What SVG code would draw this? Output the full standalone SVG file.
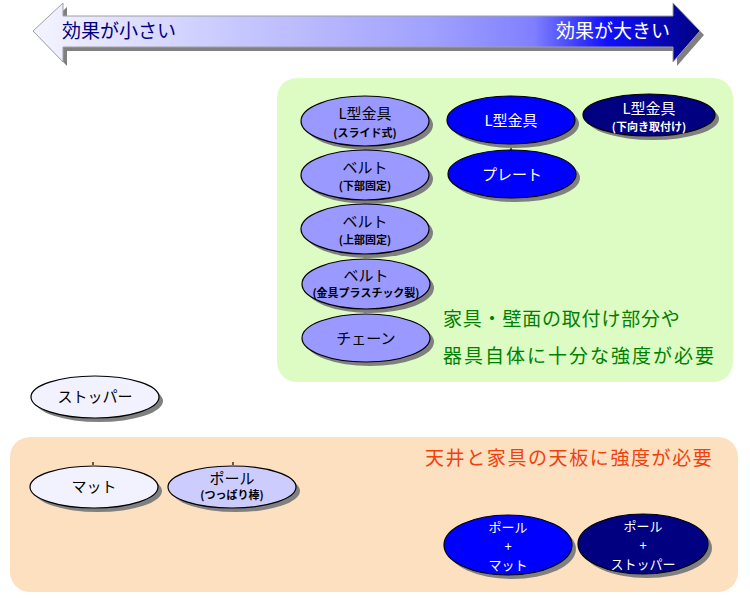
<svg xmlns="http://www.w3.org/2000/svg" width="750" height="600" viewBox="0 0 750 600">
<defs>
<linearGradient id="g" x1="33" y1="0" x2="700" y2="0" gradientUnits="userSpaceOnUse">
<stop offset="0" stop-color="#f4f4ff"/>
<stop offset="0.3" stop-color="#c8c8ff"/>
<stop offset="0.6" stop-color="#a0a0ff"/>
<stop offset="0.75" stop-color="#8080ff"/>
<stop offset="0.86" stop-color="#1010ff"/>
<stop offset="1" stop-color="#000080"/>
</linearGradient>
<style>
.t{font-family:"Noto Sans CJK JP","Liberation Sans",sans-serif;text-anchor:middle}
.m{font-size:15px}
.m3{font-size:13px}
.s{font-size:11px;font-weight:bold}
.k{fill:#000000}
.w{fill:#ffffff}
.sh{fill:#808080}
.e{stroke:#000000;stroke-width:1.2}
.c{stroke:#000000;stroke-width:1.2;fill:none}
.lbl{font-family:"Noto Sans CJK JP","Liberation Sans",sans-serif;font-size:19px}
</style>
</defs>
<rect width="750" height="600" fill="#ffffff"/>
<!-- arrow -->
<g id="arrow">
<polygon points="37,35 67,7 67,20 677,20 677,7 704,35 677,66 677,51 67,51 67,66" fill="#808080"/>
<polygon points="33,31 63,3 63,16 673,16 673,3 700,31 673,62 673,47 63,47 63,62" fill="url(#g)" stroke="#a0a0a0" stroke-width="1"/>
<text class="lbl" x="62" y="38" fill="#000080">効果が小さい</text>
<text class="lbl" x="670" y="38" fill="#ffffff" text-anchor="end">効果が大きい</text>
</g>
<!-- panels -->
<rect id="panel-green" x="277" y="78" width="456" height="304" rx="20" fill="#ddfcc4"/>
<rect id="panel-orange" x="10" y="437" width="728" height="155" rx="20" fill="#fde0c0"/>
<text x="443" y="326" font-family="Noto Sans CJK JP,Liberation Sans,sans-serif" font-size="19" fill="#008000" letter-spacing="0.8">家具・壁面の取付け部分や</text>
<text x="443" y="363" font-family="Noto Sans CJK JP,Liberation Sans,sans-serif" font-size="19" fill="#008000" letter-spacing="2">器具自体に十分な強度が必要</text>
<text x="425" y="465" font-family="Noto Sans CJK JP,Liberation Sans,sans-serif" font-size="19" fill="#f04010" letter-spacing="1.6">天井と家具の天板に強度が必要</text>
<!-- connectors -->
<g id="connectors">
<line class="c" x1="365" y1="146" x2="365" y2="150"/>
<line class="c" x1="365" y1="200" x2="365" y2="204"/>
<line class="c" x1="365" y1="254" x2="365" y2="258"/>
<line class="c" x1="365" y1="308" x2="365" y2="313"/>
<line class="c" x1="511" y1="145" x2="511" y2="150"/>
<line class="c" x1="95" y1="418" x2="95" y2="421"/>
<line class="c" x1="93" y1="462" x2="93" y2="465"/>
<line class="c" x1="233" y1="462" x2="233" y2="465"/>
</g>
<!-- nodes -->
<g id="n-lslide">
<ellipse class="sh" cx="369" cy="125" rx="64" ry="25"/>
<ellipse class="e" cx="365" cy="121" rx="64" ry="25" fill="#9999ff"/>
<text class="t m k" x="365" y="119">L型金具</text>
<text class="t s k" x="365" y="137">(スライド式)</text>
</g>
<g id="n-belt-low">
<ellipse class="sh" cx="369" cy="179" rx="64" ry="25"/>
<ellipse class="e" cx="365" cy="175" rx="64" ry="25" fill="#9999ff"/>
<text class="t m k" x="365" y="173">ベルト</text>
<text class="t s k" x="365" y="190">(下部固定)</text>
</g>
<g id="n-belt-up">
<ellipse class="sh" cx="369" cy="233" rx="64" ry="25"/>
<ellipse class="e" cx="365" cy="229" rx="64" ry="25" fill="#9999ff"/>
<text class="t m k" x="365" y="227">ベルト</text>
<text class="t s k" x="365" y="244">(上部固定)</text>
</g>
<g id="n-belt-plastic">
<ellipse class="sh" cx="370" cy="288" rx="64" ry="25"/>
<ellipse class="e" cx="366" cy="284" rx="64" ry="25" fill="#9999ff"/>
<text class="t m k" x="366" y="281">ベルト</text>
<text class="t s k" x="366" y="297">(金具プラスチック製)</text>
</g>
<g id="n-chain">
<ellipse class="sh" cx="370" cy="342" rx="64" ry="24"/>
<ellipse class="e" cx="366" cy="338" rx="64" ry="24" fill="#9999ff"/>
<text class="t m k" x="366" y="344">チェーン</text>
</g>
<g id="n-l">
<ellipse class="sh" cx="515" cy="124" rx="64" ry="24"/>
<ellipse class="e" cx="511" cy="120" rx="64" ry="24" fill="#0000ff"/>
<text class="t m w" x="511" y="126">L型金具</text>
</g>
<g id="n-plate">
<ellipse class="sh" cx="516" cy="178" rx="64" ry="24"/>
<ellipse class="e" cx="512" cy="174" rx="64" ry="24" fill="#0000ff"/>
<text class="t m w" x="512" y="180">プレート</text>
</g>
<g id="n-ldown">
<ellipse class="sh" cx="653" cy="119" rx="66" ry="21"/>
<ellipse class="e" cx="649" cy="115" rx="66" ry="21" fill="#000080"/>
<text class="t m w" x="649" y="114">L型金具</text>
<text class="t s w" x="649" y="131">(下向き取付け)</text>
</g>
<g id="n-stopper">
<ellipse class="sh" cx="99" cy="401" rx="64" ry="21"/>
<ellipse class="e" cx="95" cy="397" rx="64" ry="21" fill="#f2f2ff"/>
<text class="t m k" x="95" y="402">ストッパー</text>
</g>
<g id="n-mat">
<ellipse class="sh" cx="98" cy="491" rx="64" ry="21"/>
<ellipse class="e" cx="94" cy="487" rx="64" ry="21" fill="#f2f2ff"/>
<text class="t m k" x="94" y="492">マット</text>
</g>
<g id="n-pole">
<ellipse class="sh" cx="236" cy="491" rx="64" ry="21"/>
<ellipse class="e" cx="232" cy="487" rx="64" ry="21" fill="#ccccff"/>
<text class="t m k" x="232" y="484">ポール</text>
<text class="t s k" x="232" y="499">(つっぱり棒)</text>
</g>
<g id="n-pole-mat">
<ellipse class="sh" cx="512" cy="549" rx="64" ry="30"/>
<ellipse class="e" cx="508" cy="545" rx="64" ry="30" fill="#0000ff"/>
<text class="t m3 w" x="508" y="532">ポール</text>
<text class="t m3 w" x="508" y="551">+</text>
<text class="t m3 w" x="508" y="570">マット</text>
</g>
<g id="n-pole-stopper">
<ellipse class="sh" cx="647" cy="548" rx="65" ry="30"/>
<ellipse class="e" cx="643" cy="544" rx="65" ry="30" fill="#000080"/>
<text class="t m3 w" x="643" y="531">ポール</text>
<text class="t m3 w" x="643" y="550">+</text>
<text class="t m3 w" x="643" y="569">ストッパー</text>
</g>
</svg>
